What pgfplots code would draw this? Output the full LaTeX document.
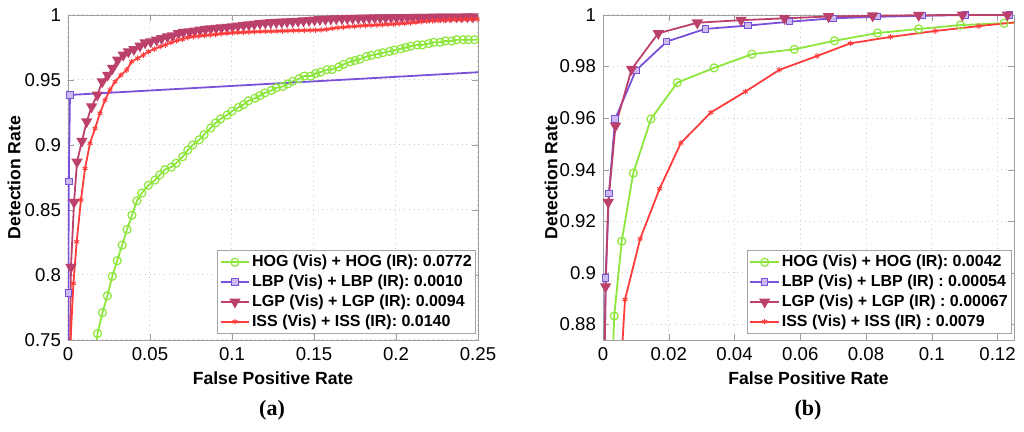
\documentclass[border=0pt]{standalone}
\usepackage{fontspec}
\setmainfont{Liberation Sans}
\newfontfamily\capfont{Liberation Serif}
\usepackage{pgfplots}
\pgfplotsset{compat=1.18}

\definecolor{hogc}{HTML}{8CE63C}
\definecolor{lbpc}{HTML}{7A52DA}
\definecolor{lgpc}{HTML}{BC406C}
\definecolor{issc}{HTML}{FF3C3C}

\pgfplotsset{
  rocstyle/.style={
    scale only axis,
    anchor=south west,
    axis line style={gray!75},
    tick style={gray!75},
    tick align=inside,
    major tick length=3pt,
    grid=major,
    major grid style={gray!40, dotted, line width=0.5pt},
    tick label style={font=\fontsize{9.3}{11}\selectfont},
    /pgf/number format/assume math mode=true,
    label style={font=\bfseries\fontsize{8.8}{10}\selectfont},
    xlabel={False Positive Rate},
    ylabel={Detection Rate},
    xlabel style={at={(axis description cs:0.5,0)}, anchor=center, yshift=-19pt},
    legend cell align=left,
    legend style={font=\bfseries\fontsize{8}{9.5}\selectfont, draw=gray!70, fill=white,
      inner sep=1pt, row sep=0pt,
      nodes={inner sep=0.9pt, text height=6.3pt, text depth=1.8pt},
      at={(axis description cs:1,0)}, anchor=south east,
      xshift=-1pt, yshift=3pt},
    legend image code/.code={\draw[mark repeat=2, mark phase=2] plot coordinates {(0pt,0pt) (7.2pt,0pt) (14.4pt,0pt)};},
    every axis plot/.append style={line width=0.9pt},
  },
  hog/.style={color=hogc, mark=o, mark size=2pt, mark options={line width=0.6pt}},
  lbp/.style={color=lbpc, mark=square*, mark size=1.6pt, mark options={fill=lbpc!40, draw=lbpc, line width=0.5pt}},
  lgp/.style={color=lgpc, mark=triangle*, mark size=2.4pt, mark options={rotate=180, fill=lgpc}},
  iss/.style={color=issc, mark=asterisk, mark size=1.4pt, mark options={line width=0.5pt}},
}

\begin{document}
\begin{tikzpicture}
\path[use as bounding box] (0,0) rectangle (512pt,216pt);

% ---------- (a) ----------
\begin{axis}[rocstyle,
  at={(34pt,46pt)}, width=205pt, height=162.5pt,
  xmin=0, xmax=0.25, ymin=0.75, ymax=1,
  xtick={0,0.05,0.1,0.15,0.2,0.25},
  xticklabels={0,0.05,0.1,0.15,0.2,0.25},
  ytick={0.75,0.8,0.85,0.9,0.95,1},
  yticklabels={0.75,0.8,0.85,0.9,0.95,1},
  ylabel style={at={(axis description cs:-0.1317,0.5)}, anchor=center},
]
\addplot[hog] coordinates {
(0.0165,0.74) (0.018,0.755) (0.021,0.771) (0.024,0.784) (0.027,0.799) (0.030,0.811)
(0.033,0.823) (0.036,0.835) (0.039,0.846) (0.042,0.857) (0.045,0.863) (0.049,0.869)
(0.053,0.873) (0.056,0.877) (0.059,0.881) (0.063,0.883) (0.066,0.886) (0.070,0.891)
(0.073,0.896) (0.076,0.900) (0.080,0.904) (0.083,0.908) (0.087,0.913) (0.090,0.917)
(0.093,0.920) (0.097,0.923) (0.100,0.926) (0.104,0.929) (0.107,0.931) (0.110,0.934)
(0.114,0.936) (0.117,0.938) (0.120,0.940) (0.124,0.942) (0.127,0.944) (0.131,0.945)
(0.134,0.947) (0.137,0.949) (0.141,0.951) (0.144,0.953) (0.148,0.953) (0.151,0.955)
(0.154,0.956) (0.158,0.958) (0.161,0.958) (0.165,0.960) (0.168,0.962) (0.172,0.964)
(0.175,0.965) (0.178,0.966) (0.182,0.968) (0.185,0.969) (0.189,0.970) (0.192,0.971)
(0.196,0.972) (0.199,0.973) (0.203,0.974) (0.206,0.975) (0.209,0.976) (0.213,0.977)
(0.216,0.977) (0.220,0.978) (0.223,0.979) (0.227,0.979) (0.230,0.980) (0.234,0.980)
(0.237,0.981) (0.241,0.981) (0.244,0.981) (0.248,0.981) (0.2515,0.9812)
};
\addlegendentry{HOG (Vis) + HOG (IR): 0.0772}
\addplot[lbp] coordinates {
(0,0.70) (0.0002,0.786) (0.0005,0.8718) (0.0012,0.9385) (0.5,0.9735)
};
\addlegendentry{LBP (Vis) + LBP (IR): 0.0010}
\addplot[lgp] coordinates {
(0.0012,0.74) (0.0018,0.806) (0.0037,0.856) (0.0055,0.887) (0.0085,0.903) (0.0114,0.918)
(0.0144,0.9295) (0.0179,0.9385) (0.0209,0.9487) (0.0242,0.9538) (0.0272,0.959) (0.0303,0.9654)
(0.0337,0.9692) (0.0368,0.9718) (0.0402,0.9736) (0.0439,0.9762) (0.047,0.9787) (0.0504,0.9795)
(0.054,0.9808) (0.0571,0.982) (0.0606,0.9833) (0.0638,0.9841) (0.0673,0.9859) (0.0703,0.9867)
(0.074,0.9872) (0.0772,0.9878) (0.0805,0.9885) (0.0838,0.989) (0.0870,0.9894) (0.0903,0.9898)
(0.0936,0.9902) (0.0970,0.9906) (0.1003,0.991) (0.1036,0.9915) (0.1070,0.992) (0.1103,0.9925)
(0.1136,0.993) (0.1170,0.9936) (0.1203,0.9939) (0.1236,0.9942) (0.1270,0.9944) (0.1303,0.9946)
(0.1336,0.9948) (0.1370,0.995) (0.1403,0.9953) (0.1436,0.9956) (0.1470,0.9959) (0.1503,0.9962)
(0.1536,0.9965) (0.1570,0.9967) (0.1603,0.997) (0.1636,0.9972) (0.1670,0.9973) (0.1703,0.9974)
(0.1736,0.9975) (0.1770,0.9976) (0.1803,0.9977) (0.1836,0.9978) (0.1870,0.9979) (0.1903,0.998)
(0.1936,0.998) (0.1970,0.9981) (0.2003,0.9981) (0.2036,0.9982) (0.2070,0.9982) (0.2103,0.9983)
(0.2136,0.9983) (0.2170,0.9984) (0.2203,0.9984) (0.2236,0.9985) (0.2270,0.9985) (0.2303,0.9985)
(0.2336,0.9986) (0.2370,0.9986) (0.2403,0.9986) (0.2436,0.9987) (0.2470,0.9987) (0.2503,0.9987)
};
\addlegendentry{LGP (Vis) + LGP (IR): 0.0094}
\addplot[iss] coordinates {
(0.0012,0.74) (0.0033,0.7936) (0.0053,0.8256) (0.0079,0.8577) (0.0104,0.882) (0.0134,0.9013)
(0.0165,0.9128) (0.0195,0.9244) (0.0226,0.9346) (0.0256,0.9423) (0.0287,0.9487) (0.0323,0.9538)
(0.0358,0.9577) (0.0388,0.9641) (0.0425,0.9667) (0.0459,0.9692) (0.049,0.9718) (0.0526,0.9738)
(0.0561,0.9756) (0.0593,0.9769) (0.0628,0.9787) (0.0663,0.9802) (0.0697,0.9813) (0.073,0.9826)
(0.0764,0.9833) (0.0798,0.9838) (0.0832,0.9842) (0.0866,0.9846) (0.090,0.985) (0.0934,0.9855)
(0.0968,0.9859) (0.1002,0.9862) (0.1036,0.9865) (0.1069,0.9867) (0.1103,0.9869) (0.1137,0.9871)
(0.1171,0.9872) (0.1205,0.9874) (0.1239,0.9875) (0.1273,0.9876) (0.1307,0.9877) (0.1341,0.9878)
(0.1374,0.988) (0.1408,0.9881) (0.1442,0.9882) (0.1476,0.9883) (0.1510,0.9884) (0.1544,0.9885)
(0.1577,0.989) (0.1611,0.9897) (0.1645,0.9902) (0.1679,0.9906) (0.1713,0.991) (0.1747,0.9913)
(0.1781,0.9916) (0.1815,0.9919) (0.1849,0.9921) (0.1883,0.9923) (0.1917,0.9925) (0.1951,0.9928)
(0.1985,0.993) (0.2019,0.9933) (0.2053,0.9936) (0.2087,0.9939) (0.2121,0.9943) (0.2155,0.9949)
(0.2189,0.9953) (0.2223,0.9956) (0.2257,0.9958) (0.2291,0.996) (0.2325,0.9962) (0.2359,0.9964)
(0.2393,0.9965) (0.2427,0.9966) (0.2461,0.9967) (0.2495,0.9968)
};
\addlegendentry{ISS (Vis) + ISS (IR): 0.0140}
\end{axis}

% ---------- (b) ----------
\begin{axis}[rocstyle,
  at={(301.5pt,46pt)}, width=205.5pt, height=162.5pt,
  xmin=0, xmax=0.125, ymin=0.874, ymax=1,
  xtick={0,0.02,0.04,0.06,0.08,0.1,0.12},
  xticklabels={0,0.02,0.04,0.06,0.08,0.1,0.12},
  ytick={0.88,0.9,0.92,0.94,0.96,0.98,1},
  yticklabels={0.88,0.9,0.92,0.94,0.96,0.98,1},
  ylabel style={at={(axis description cs:-0.1265,0.5)}, anchor=center},
]
\addplot[hog] coordinates {
(0.0028,0.86) (0.0034,0.8833) (0.0057,0.9123) (0.0092,0.9387) (0.0146,0.9597) (0.0226,0.9738)
(0.0338,0.9795) (0.0453,0.9848) (0.0582,0.9867) (0.0704,0.99) (0.0835,0.993) (0.096,0.9946)
(0.1087,0.9961) (0.122,0.9968) (0.135,0.9975)
};
\addlegendentry{HOG (Vis) + HOG (IR): 0.0042}
\addplot[lbp] coordinates {
(0.0004,0.86) (0.0008,0.8981) (0.0018,0.9308) (0.0037,0.9597) (0.01,0.9785) (0.0194,0.9897)
(0.0311,0.9946) (0.0441,0.9959) (0.0568,0.9974) (0.0699,0.9987) (0.0835,0.9993) (0.097,0.9997)
(0.1103,1.0) (0.1237,1.0)
};
\addlegendentry{LBP (Vis) + LBP (IR) : 0.00054}
\addplot[lgp] coordinates {
(0.0004,0.86) (0.0008,0.8947) (0.0016,0.9274) (0.0038,0.957) (0.0087,0.979) (0.0168,0.9929)
(0.0287,0.997) (0.042,0.998) (0.0552,0.9987) (0.0686,0.9994) (0.082,0.9997) (0.096,0.9999)
(0.1093,1.0) (0.123,1.0)
};
\addlegendentry{LGP (Vis) + LGP (IR) : 0.00067}
\addplot[iss] coordinates {
(0.0053,0.86) (0.0067,0.8897) (0.0113,0.9132) (0.0172,0.9326) (0.0237,0.9504) (0.0328,0.9622)
(0.0433,0.9703) (0.0536,0.9787) (0.0651,0.9841) (0.0752,0.989) (0.0875,0.9915) (0.101,0.9938)
(0.1143,0.9957) (0.128,0.9975)
};
\addlegendentry{ISS (Vis) + ISS (IR) : 0.0079}
\end{axis}

\node[font=\capfont\bfseries\fontsize{11}{13}\selectfont] at (136pt,11pt) {(a)};
\node[font=\capfont\bfseries\fontsize{11}{13}\selectfont] at (404pt,11pt) {(b)};
\end{tikzpicture}
\end{document}
